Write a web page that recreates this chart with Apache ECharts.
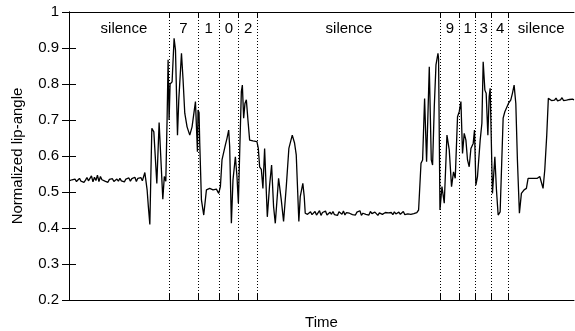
<!DOCTYPE html>
<html><head><meta charset="utf-8">
<script src="https://cdn.jsdelivr.net/npm/echarts@6/dist/echarts.min.js"></script>
<style>html,body{margin:0;padding:0;background:#fff}#c{width:575px;height:331px}</style>
</head><body><div id="c"></div>
<script>
// time axis (frames) 0..506
const timeMax = 506;
const boundaries = [100, 129.5, 150.3, 170, 189, 372, 391.3, 407.5, 423.5, 440.3];
const segmentLabels = ['silence', '7', '1', '0', '2', 'silence', '9', '1', '3', '4', 'silence'];

// silence at start: sampled every 1.5 frames from t=0
const silence1Start = 0, silence1Step = 1.5;
const silence1Values = [0.531,0.528,0.534,0.530,0.536,0.529,0.533,0.538,0.530,0.535,0.527,0.533,0.540,0.531,0.536,0.545,0.528,0.541,0.532,0.547,0.529,0.543,0.534,0.538,0.530,0.533,0.527,0.535,0.531,0.537,0.529,0.534,0.536,0.530,0.538,0.531,0.535,0.528,0.536,0.532,0.539,0.530,0.537,0.533,0.541,0.529,0.538,0.534,0.540,0.531];

// utterance "7 1 0 2" (time, value)
const digits7102 = [
  [76,0.554],[78.3,0.505],[79.5,0.46],[81,0.41],[83,0.677],[85,0.667],[86,0.672],[88,0.524],[90.3,0.693],
  [94,0.48],[95.5,0.543],[97,0.53],[98.3,0.705],[99.3,0.867],[100.3,0.70],[101.3,0.80],[103.3,0.806],
  [105.3,0.927],[106.7,0.894],[108.7,0.658],[110,0.756],[112.7,0.885],[114.3,0.811],[116,0.719],
  [118.3,0.681],[121,0.658],[123.3,0.681],[126.7,0.751],[128.7,0.612],[129.3,0.728],[130.3,0.72],
  [131,0.636],[132.7,0.478],[135,0.436],[137.7,0.506],[141,0.51],[144.3,0.506],[147.7,0.508],
  [150,0.496],[151.7,0.515],[153.3,0.589],[155,0.59],[156.7,0.631],[158.3,0.649],[160,0.672],
  [161,0.626],[162.7,0.413],[164.3,0.533],[166.7,0.598],[168.3,0.543],[169.7,0.469],[171,0.607],
  [172.7,0.779],[173.7,0.797],[175,0.705],[176.3,0.746],[177.7,0.756],[179.3,0.70],[181,0.644],
  [184.3,0.642],[188.3,0.64],[189.7,0.621],[191,0.57],[192.7,0.563],[194.3,0.51],[196,0.621],
  [198.7,0.431],[201,0.519],[203,0.575],[205,0.459],[206.7,0.413],[210,0.538],[212.7,0.478],
  [215,0.418],[217.7,0.515],[220.3,0.621],[221.5,0.626],[223.7,0.658],[226,0.636],[227.7,0.603],
  [230.3,0.418],[231.7,0.487],[234.3,0.524],[235.7,0.487],[236.7,0.441]
];

// middle silence
const silence2Start = 237.5, silence2Step = 1.5;
const silence2Values = [0.443,0.438,0.441,0.445,0.437,0.440,0.446,0.436,0.442,0.448,0.435,0.443,0.439,0.447,0.436,0.441,0.444,0.438,0.446,0.437,0.442,0.435,0.445,0.440,0.438,0.447,0.436,0.443,0.439,0.441,0.446,0.437,0.442,0.436,0.444,0.439,0.448,0.435,0.441,0.445,0.438,0.443,0.436,0.446,0.440,0.437,0.444,0.439,0.435,0.442,0.447,0.438,0.441,0.443,0.443,0.442,0.444,0.443,0.437,0.445,0.439,0.436,0.444,0.438,0.442,0.446,0.437,0.441,0.439,0.444,0.438,0.442,0.440,0.437,0.443];

// utterance "9 1 3 4"
const digits9134 = [
  [349.3,0.445],[350.3,0.45],[352.7,0.58],[354.3,0.589],[356.3,0.76],[358.3,0.584],[361,0.848],
  [363,0.589],[364.3,0.575],[366,0.737],[367.7,0.853],[369.7,0.885],[370.3,0.87],[371.7,0.45],
  [373.7,0.515],[376,0.469],[378.7,0.658],[381,0.617],[383.3,0.515],[385.3,0.556],[387,0.538],
  [389.3,0.709],[391,0.723],[392.7,0.751],[394.3,0.607],[396,0.663],[397.7,0.644],[399.3,0.589],
  [401,0.57],[402.7,0.621],[405,0.635],[406.3,0.672],[407.7,0.519],[409.3,0.543],[412,0.644],
  [413.7,0.691],[415,0.862],[416.7,0.783],[418,0.774],[419.7,0.658],[421,0.765],[422,0.788],
  [424.3,0.496],[426.7,0.598],[428.3,0.506],[430,0.436],[432,0.445],[433.3,0.441],[435,0.705],
  [436.7,0.723],[438.7,0.728],[440.3,0.746],[442.7,0.756],[444.3,0.774],[446,0.797],[447.7,0.746],
  [449.3,0.589],[451.3,0.441],[453.3,0.496],[456,0.506],[458.3,0.51],[460,0.538],[464.3,0.538],
  [469.3,0.538],[471.7,0.543],[473.7,0.543],[475,0.51],[476.7,0.561],[478.7,0.658],[480.3,0.76]
];

// final silence
const silence3Start = 482, silence3Step = 1.5;
const silence3Values = [0.757,0.754,0.759,0.755,0.761,0.753,0.758,0.756,0.762,0.754,0.759,0.755,0.760,0.757,0.753,0.758,0.756];

const yMin = 0.2, yMax = 1, yInterval = 0.1;

function sampled(start, step, vals) { return vals.map((v, i) => [start + i * step, v]); }
const series = [].concat(
  sampled(silence1Start, silence1Step, silence1Values),
  digits7102,
  sampled(silence2Start, silence2Step, silence2Values),
  digits9134,
  sampled(silence3Start, silence3Step, silence3Values)
);

const edges = [0].concat(boundaries, [timeMax]);
const areas = segmentLabels.map((name, i) => {
  const a = { xAxis: edges[i], name: name };
  if (i === 0) a.label = { offset: [5, 0] };
  return [a, { xAxis: edges[i + 1] }];
});

const FONT = 'Liberation Sans, Arial, Helvetica, sans-serif';
const axisLine = { show: true, lineStyle: { color: '#000', width: 1 } };
const chart = echarts.init(document.getElementById('c'), null, { renderer: 'canvas' });
chart.setOption({
  animation: false,
  backgroundColor: '#fff',
  grid: { left: 69, right: 1, top: 12, bottom: 31, containLabel: false, outerBoundsMode: 'none' },
  xAxis: [
    { type: 'value', min: 0, max: timeMax, position: 'bottom',
      name: 'Time', nameLocation: 'middle', nameGap: 15,
      nameTextStyle: { color: '#000', fontSize: 15, fontFamily: FONT },
      axisLine: axisLine, splitLine: { show: false },
      axisLabel: { show: false },
      axisTick: { show: true, inside: true, length: 6, customValues: boundaries, lineStyle: { color: '#000' } } },
    { type: 'value', min: 0, max: timeMax, position: 'top',
      axisLine: axisLine, splitLine: { show: false },
      axisLabel: { show: false },
      axisTick: { show: true, inside: true, length: 6, customValues: boundaries, lineStyle: { color: '#000' } } }
  ],
  yAxis: [
    { type: 'value', min: yMin, max: yMax, interval: yInterval, position: 'left',
      name: 'Normalized lip-angle', nameLocation: 'middle', nameGap: 44, nameRotate: 90,
      nameTextStyle: { color: '#000', fontSize: 15, fontFamily: FONT },
      axisLine: axisLine, splitLine: { show: false },
      axisTick: { show: true, inside: true, length: 7, lineStyle: { color: '#000' } },
      axisLabel: { color: '#000', fontSize: 15, fontFamily: FONT, margin: 10 } },
    { type: 'value', min: yMin, max: yMax, interval: yInterval, position: 'right',
      axisLine: axisLine, splitLine: { show: false },
      axisTick: { show: true, inside: true, length: 7, lineStyle: { color: '#000' } },
      axisLabel: { show: false } }
  ],
  series: [{
    type: 'line', xAxisIndex: 0, yAxisIndex: 0,
    data: series, showSymbol: false, symbol: 'none',
    lineStyle: { color: '#000', width: 1.3 },
    markLine: {
      silent: true, symbol: 'none', animation: false,
      label: { show: false },
      lineStyle: { type: [1, 2], color: '#000', width: 1 },
      data: boundaries.map(b => ({ xAxis: b }))
    },
    markArea: {
      silent: true,
      itemStyle: { color: 'rgba(0,0,0,0)' },
      label: { show: true, position: 'insideTop', distance: 9, color: '#000', fontSize: 15, fontFamily: FONT },
      data: areas
    }
  }]
});
</script></body></html>
